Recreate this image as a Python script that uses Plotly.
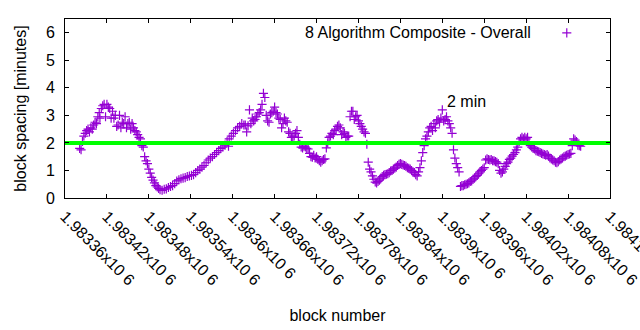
import plotly.graph_objects as go

BASE_BLOCK = 1983360

block_offset = [
    21, 23, 25, 27, 29, 31, 33, 35, 37, 39, 41, 43, 45, 47, 49, 50, 52, 54, 56, 58,
    60, 62, 64, 66, 68, 70, 72, 74, 76, 78, 80, 82, 84, 86, 88, 90, 92, 94, 96, 98,
    100, 102, 104, 106, 108, 110, 112, 114, 116, 118, 120, 122, 124, 126, 128, 130, 132, 134,
    136, 139, 142, 145, 148, 151, 154, 157, 160, 163, 166, 169, 172, 175, 178, 181, 184, 187,
    190, 193, 196, 199, 202, 205, 208, 211, 214, 217, 220, 223, 226, 229, 232, 234, 235, 238,
    241, 244, 247, 250, 253, 256,
    258, 260, 262, 264, 266, 268, 270, 272, 274, 276, 278, 280, 282, 284, 286, 288, 290, 292,
    294, 296, 298, 300, 302, 304, 306, 308, 310, 312, 314, 316, 318, 320, 322, 324, 326, 328,
    330, 332, 334, 336, 338, 340, 342, 344, 346, 348, 350, 352, 354, 356, 358, 360, 362, 364,
    366, 368, 370, 372, 374, 376, 378,
    380, 382, 384, 386, 388, 390, 392, 394, 396, 398, 400, 402, 404, 406, 408, 410, 412, 414,
    416, 418, 420, 422, 424, 426, 428, 430, 432, 434, 436, 438, 440, 442, 444, 446, 448, 450,
    452, 454, 456, 458, 460, 462, 464, 466, 468, 470, 472, 474, 476, 478, 480, 482, 484, 486,
    488, 490, 492, 494, 496, 498, 500,
    502, 504, 506, 508, 510, 512, 514, 516, 518, 520, 522, 524, 526, 528, 530, 532, 534, 536,
    538, 540, 542, 544, 546, 548, 550, 552, 554, 556, 558, 560, 562, 564, 566, 568, 570, 572,
    574, 576, 578, 580, 582, 584, 586, 588, 590, 592, 594, 596, 598, 600, 602, 604, 606, 608,
    610, 612, 614, 616, 618,
    620, 622, 624, 626, 628, 630, 632, 634, 636, 638, 640, 642, 644, 646, 648, 650, 652, 654,
    656, 658, 660, 662, 664, 666, 668, 670, 672, 674, 676, 678, 680, 682, 684, 686, 688, 690,
    692, 694, 696, 698, 700, 702, 704, 706, 708, 710, 712, 714, 716, 718, 720, 722, 724, 726,
    728, 730, 732, 734, 736, 738,
]

spacing_min = [
    1.80, 1.75, 2.05, 2.25, 2.35, 2.45, 2.50, 2.40, 2.55, 2.50, 2.65, 2.75, 2.70, 2.95, 3.10, 2.90, 3.25, 3.35, 3.40, 2.95,
    3.40, 3.30, 3.25, 2.90, 3.15, 2.90, 3.00, 2.60, 2.65, 3.00, 2.55, 2.75, 2.70, 2.95, 2.55, 2.70, 2.75, 2.50, 2.70, 2.55,
    2.45, 2.40, 2.30, 2.20, 2.15, 1.90, 1.85, 1.50, 1.35, 1.25, 1.05, 0.90, 0.75, 0.65, 0.55, 0.45, 0.40, 0.35,
    0.30, 0.28, 0.32, 0.33, 0.38, 0.42, 0.45, 0.52, 0.62, 0.66, 0.70, 0.72, 0.74, 0.78, 0.80, 0.82, 0.85, 0.92,
    1.00, 1.05, 1.12, 1.18, 1.28, 1.38, 1.45, 1.50, 1.58, 1.65, 1.72, 1.80, 1.85, 1.92, 2.05, 1.88, 2.15, 2.25,
    2.35, 2.45, 2.55, 2.60, 2.70, 2.65,
    2.65, 2.40, 2.62, 3.20, 2.70, 2.90, 2.80, 2.85, 2.95, 3.05, 3.10, 3.20, 3.40, 3.80, 3.65, 3.00, 2.80, 2.75,
    3.05, 3.10, 3.15, 3.30, 3.10, 3.05, 2.90, 2.85, 2.55, 2.70, 2.90, 2.80, 2.75, 2.40, 2.35, 2.20, 2.20, 2.25,
    2.35, 2.45, 2.20, 1.95, 1.85, 1.82, 1.88, 1.85, 1.80, 1.78, 1.62, 1.50, 1.48, 1.55, 1.45, 1.50, 1.40, 1.35,
    1.30, 1.35, 1.40, 1.42, 1.82, 2.00, 2.20,
    2.25, 2.35, 2.30, 2.45, 2.50, 2.60, 2.65, 2.55, 2.30, 2.40, 2.35, 2.20, 2.25, 2.25, 2.95, 3.15, 3.15, 2.85,
    2.95, 3.00, 2.80, 2.70, 2.60, 2.50, 2.40, 2.35, 1.95, 1.30, 1.05, 0.95, 0.80, 0.68, 0.58, 0.55, 0.60, 0.65,
    0.72, 0.78, 0.82, 0.85, 0.86, 0.88, 0.92, 0.98, 1.00, 1.05, 1.08, 1.12, 1.18, 1.22, 1.25, 1.22, 1.20, 1.18,
    1.15, 1.10, 1.08, 1.05, 1.00, 0.95, 0.92,
    0.85, 0.80, 0.95, 1.10, 1.35, 1.65, 1.90, 2.15, 2.25, 2.40, 2.55, 2.60, 2.45, 2.70, 2.55, 2.80, 2.85, 2.75,
    2.90, 3.20, 2.80, 2.85, 2.95, 2.80, 2.70, 2.55, 2.35, 1.75, 1.45, 1.25, 1.10, 0.95, 0.42, 0.45, 0.45, 0.48,
    0.50, 0.52, 0.55, 0.60, 0.62, 0.68, 0.72, 0.78, 0.82, 0.88, 0.95, 1.00, 1.05, 1.10, 1.38, 1.42, 1.40, 1.38,
    1.40, 1.35, 1.35, 1.32, 1.30,
    1.25, 1.00, 0.90, 0.95, 1.05, 1.15, 1.25, 1.30, 1.40, 1.45, 1.52, 1.58, 1.65, 1.75, 1.85, 2.05, 2.15, 2.20,
    2.15, 2.20, 2.15, 2.20, 2.00, 1.90, 1.85, 1.80, 1.78, 1.72, 1.70, 1.68, 1.65, 1.62, 1.60, 1.58, 1.55, 1.58,
    1.52, 1.45, 1.42, 1.38, 1.35, 1.30, 1.28, 1.32, 1.38, 1.42, 1.45, 1.50, 1.52, 1.55, 1.58, 1.60, 1.62, 1.90,
    2.15, 2.10, 2.05, 1.92, 1.90, 1.88,
]

tick_values = [1983360 + 60 * i for i in range(14)]
tick_labels = [
    "1.98336x10 6", "1.98342x10 6", "1.98348x10 6", "1.98354x10 6", "1.9836x10 6",
    "1.98366x10 6", "1.98372x10 6", "1.98378x10 6", "1.98384x10 6", "1.9839x10 6",
    "1.98396x10 6", "1.98402x10 6", "1.98408x10 6", "1.98414x10 6",
]
y_ticks = [0, 1, 2, 3, 4, 5, 6]
target_minutes = 2
x_range = [1983360, 1984140]
y_range = [0, 6.5]
series_name = "8 Algorithm Composite - Overall"

blocks = [BASE_BLOCK + o for o in block_offset]

FONT = "Liberation Sans, Arial, sans-serif"
PURPLE = "#9400d3"

fig = go.Figure()
fig.add_trace(go.Scatter(
    x=blocks, y=spacing_min, mode="markers", name=" ",
    marker=dict(symbol="cross-thin", size=6.5, color=PURPLE,
                line=dict(color=PURPLE, width=1.2)),
    showlegend=True,
))
fig.add_trace(go.Scatter(
    x=x_range, y=[target_minutes, target_minutes], mode="lines",
    line=dict(color="#00ff00", width=4), showlegend=False, hoverinfo="skip",
))

axis_common = dict(
    showline=True, linecolor="black", linewidth=1, mirror="ticks",
    ticks="inside", ticklen=4, tickcolor="black", tickwidth=1,
    showgrid=False, zeroline=False, automargin=False,
    tickfont=dict(family=FONT, size=16, color="black"),
)

fig.update_layout(
    width=640, height=330,
    margin=dict(l=65, r=30, t=19, b=132),
    paper_bgcolor="white", plot_bgcolor="white",
    font=dict(family=FONT, size=16, color="black"),
    xaxis=dict(range=x_range, tickvals=tick_values, ticktext=tick_labels,
               tickangle=45, ticklabelstandoff=2, ticklabeloverflow="allow",
               title=dict(text="block number", standoff=22,
                          font=dict(family=FONT, size=16)),
               **axis_common),
    yaxis=dict(range=y_range, tickvals=y_ticks, ticklabelstandoff=6,
               title=dict(text="block spacing [minutes]", standoff=15,
                          font=dict(family=FONT, size=16)),
               **axis_common),
    legend=dict(x=0.884, y=1.017, xanchor="left", yanchor="top",
                bgcolor="rgba(0,0,0,0)", borderwidth=0,
                font=dict(family=FONT, size=16)),
    annotations=[
        dict(text=series_name, xref="paper", yref="paper",
             x=0.8587, y=0.9218, xanchor="right", yanchor="middle",
             showarrow=False, font=dict(family=FONT, size=16, color="black")),
        dict(text="2 min", xref="x", yref="y", x=1983904, y=3.5,
             xanchor="left", yanchor="middle", showarrow=False,
             font=dict(family=FONT, size=16, color="black")),
    ],
    showlegend=True,
)

fig.write_html("out.html")
